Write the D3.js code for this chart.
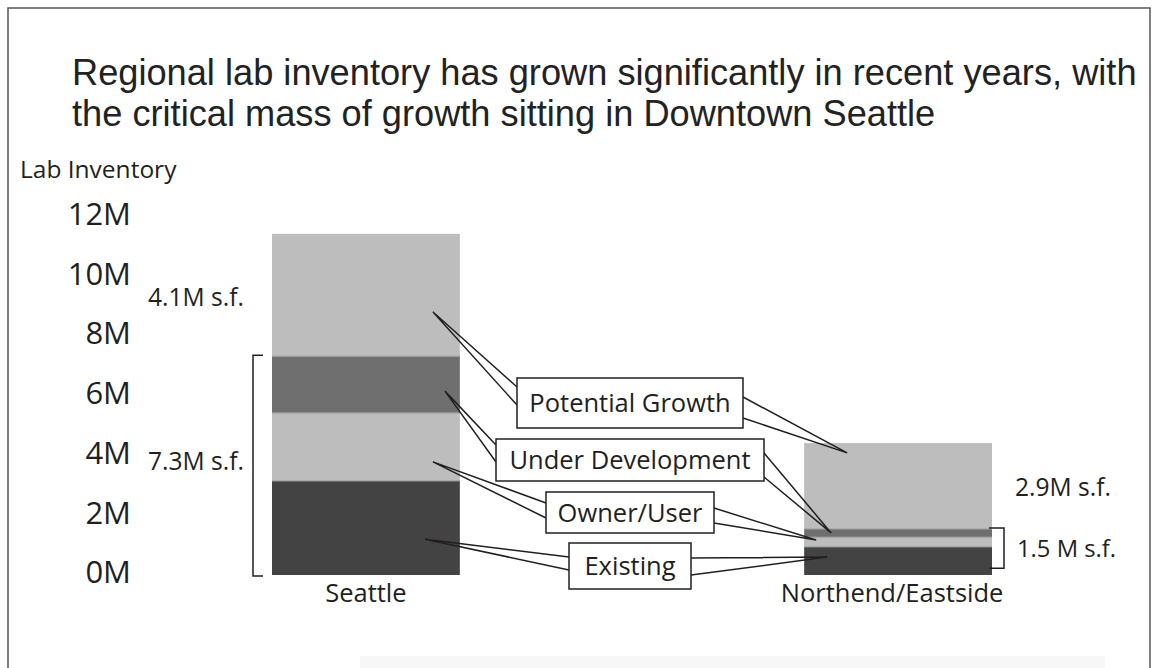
<!DOCTYPE html>
<html><head><meta charset="utf-8">
<script src="https://cdn.jsdelivr.net/npm/d3@7"></script>
<style>
html,body{margin:0;padding:0;background:#fff;}
svg{display:block;}
</style></head>
<body>
<script>
// ---- data ----
const categories = ["Seattle", "Northend/Eastside"];
const seriesKeys = ["Existing", "Owner/User", "Under Development", "Potential Growth"];
const existing = [3.15, 0.94];
const ownerUser = [2.28, 0.33];
const underDevelopment = [1.90, 0.27];
const potentialGrowth = [4.10, 2.88];
const yTicks = [0, 2, 4, 6, 8, 10, 12];
const yTickLabels = ["0M", "2M", "4M", "6M", "8M", "10M", "12M"];
const totalLabels = [["7.3M s.f.", "4.1M s.f."], ["1.5 M s.f.", "2.9M s.f."]];
const titleLines = ["Regional lab inventory has grown significantly in recent years, with",
                    "the critical mass of growth sitting in Downtown Seattle"];
const yAxisTitle = "Lab Inventory";
// callout anchor values (M) on each bar, per series
const calloutAnchorValues = [[1.2, 0.6], [3.79, 1.17], [6.16, 1.41], [8.81, 4.09]];

// ---- layout ----
const W = 1159, H = 668;
const svg = d3.select("body").append("svg").attr("width", W).attr("height", H);
const bodyFont = "'Open Sans', 'Noto Sans', sans-serif";
const ink = "#231f20";

// frame
svg.append("rect").attr("x", 360).attr("y", 656).attr("width", 745).attr("height", 12).attr("fill", "#f7f7f7");
svg.append("path").attr("d", `M8,${H} L8,8 L1150,8 L1150,${H}`).attr("fill", "none")
  .attr("stroke", "#555").attr("stroke-width", 1.5);

// title
const tt = svg.append("g").selectAll("text").data(titleLines).join("text")
  .attr("x", 72).attr("y", (d, i) => 85 + i * 41)
  .attr("font-family", "'Liberation Sans', Arial, Helvetica, sans-serif")
  .attr("font-size", 36).attr("fill", "#222").text(d => d);
// fit first line to the reference width
const w0 = tt.nodes()[0].getComputedTextLength();
if (w0 > 0) tt.attr("font-size", 36 * 1065 / w0);

svg.append("text").attr("x", 20).attr("y", 178).attr("font-family", bodyFont)
  .attr("font-size", 24.5).attr("fill", ink).text(yAxisTitle);

// scales
const y = d3.scaleLinear().domain([0, 12]).range([575, 216.8]);
const x = d3.scaleBand().domain(categories).range([272, 992]).paddingInner(0.647).paddingOuter(0);

// axis
const axis = d3.axisLeft(y).tickValues(yTicks).tickSize(0).tickPadding(0)
  .tickFormat((d, i) => yTickLabels[i]);
const ag = svg.append("g").attr("transform", "translate(131,0)").call(axis);
ag.select(".domain").remove();
ag.selectAll("text").attr("font-family", bodyFont).attr("font-size", 31).attr("fill", ink).attr("dy", "0.25em");

// stack
const table = categories.map((c, i) => ({
  cat: c,
  "Existing": existing[i],
  "Owner/User": ownerUser[i],
  "Under Development": underDevelopment[i],
  "Potential Growth": potentialGrowth[i]
}));
const stacked = d3.stack().keys(seriesKeys)(table);
const colors = {"Existing": "#434343", "Owner/User": "#bdbdbd", "Under Development": "#6f6f6f", "Potential Growth": "#bdbdbd"};

svg.append("g").selectAll("g").data(stacked).join("g").attr("fill", d => colors[d.key])
  .selectAll("rect").data(d => d).join("rect")
  .attr("x", d => x(d.data.cat)).attr("width", x.bandwidth())
  .attr("y", d => y(d[1])).attr("height", d => y(d[0]) - y(d[1]));
// faint separators
svg.append("g").selectAll("g").data(stacked.slice(0, 3)).join("g")
  .selectAll("line").data(d => d).join("line")
  .attr("x1", d => x(d.data.cat)).attr("x2", d => x(d.data.cat) + x.bandwidth())
  .attr("y1", d => y(d[1])).attr("y2", d => y(d[1]))
  .attr("stroke", "#9a9a9a").attr("stroke-width", 1);

// category labels
svg.append("g").selectAll("text").data(categories).join("text")
  .attr("x", d => x(d) + x.bandwidth() / 2 - (d === categories[1] ? 6 : 0)).attr("y", 602).attr("text-anchor", "middle")
  .attr("font-family", bodyFont).attr("font-size", 25.5).attr("fill", ink).text(d => d);

// brackets
const devTop = [0, 1].map(i => existing[i] + ownerUser[i] + underDevelopment[i]);
const sx = x("Seattle");
svg.append("path")
  .attr("d", `M${sx - 9},${y(devTop[0]) - 1} L${sx - 19},${y(devTop[0]) - 1} L${sx - 19},${y(0) + 1} L${sx - 9},${y(0) + 1}`)
  .attr("fill", "none").attr("stroke", ink).attr("stroke-width", 1.5);
const nx = x("Northend/Eastside") + x.bandwidth();
svg.append("path")
  .attr("d", `M${nx - 3},${y(devTop[1]) - 1} L${nx + 12},${y(devTop[1]) - 1} L${nx + 12},${y(0.23)} L${nx - 3},${y(0.23)}`)
  .attr("fill", "none").attr("stroke", ink).attr("stroke-width", 1.5);

// total labels
const lbl = (t, xx, yy, fs) => svg.append("text").attr("x", xx).attr("y", yy).attr("font-family", bodyFont)
  .attr("font-size", fs).attr("fill", ink).text(t);
lbl(totalLabels[0][1], 148, 306, 24.6);
lbl(totalLabels[0][0], 148, 470, 24.6);
lbl(totalLabels[1][1], 1015, 496, 24.6);
lbl(totalLabels[1][0], 1017, 557, 23.8);

// callouts (layout boxes)
const boxes = {
  "Potential Growth": {x: 517, y: 378, w: 226, h: 50, l: [9, 27], r: [19, 40], ax: [161, 43]},
  "Under Development": {x: 496, y: 439, w: 268, h: 42, l: [6, 23], r: [14, 38], ax: [173, 27]},
  "Owner/User": {x: 546, y: 492, w: 168, h: 41, l: [11, 26], r: [16, 31], ax: [161, 12]},
  "Existing": {x: 569, y: 543, w: 122, h: 46, l: [14, 27], r: [15, 32], ax: [153, 23]}
};
const cg = svg.append("g");
seriesKeys.forEach((k, si) => {
  const b = boxes[k];
  const a0 = [x(categories[0]) + b.ax[0], y(calloutAnchorValues[si][0])];
  const a1 = [x(categories[1]) + b.ax[1], y(calloutAnchorValues[si][1])];
  cg.append("path")
    .attr("d", `M${b.x},${b.y + b.l[0]} L${a0[0]},${a0[1]} L${b.x},${b.y + b.l[1]}` +
               `M${b.x + b.w},${b.y + b.r[0]} L${a1[0]},${a1[1]} L${b.x + b.w},${b.y + b.r[1]}`)
    .attr("fill", "none").attr("stroke", ink).attr("stroke-width", 1.5).attr("stroke-linejoin", "miter");
  cg.append("rect").attr("x", b.x).attr("y", b.y).attr("width", b.w).attr("height", b.h)
    .attr("fill", "#fff").attr("stroke", ink).attr("stroke-width", 1.5);
  cg.append("text").attr("x", b.x + b.w / 2).attr("y", b.y + b.h / 2).attr("dy", "0.36em")
    .attr("text-anchor", "middle").attr("font-family", bodyFont).attr("font-size", 25.5)
    .attr("fill", ink).text(k);
});
</script>
</body></html>
